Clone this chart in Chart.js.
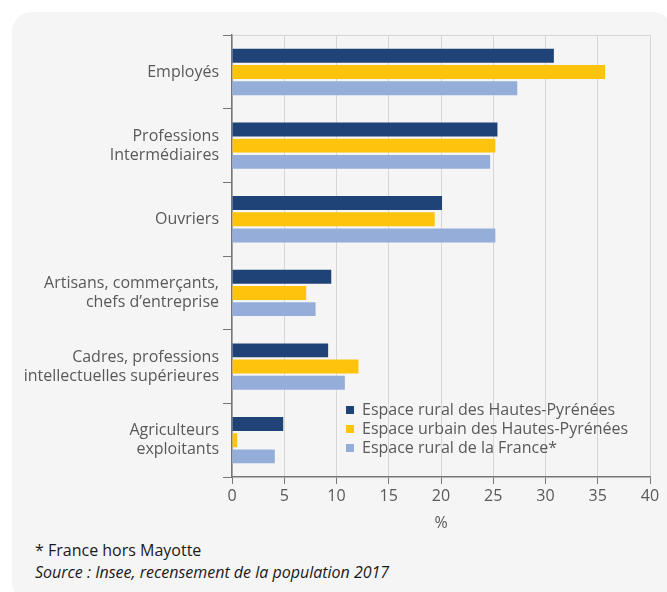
<!DOCTYPE html>
<html>
<head>
<meta charset="utf-8">
<script src="https://cdn.jsdelivr.net/npm/chart.js@4"></script>
<style>
  body { margin: 0; background: #fff; font-family: 'Open Sans', sans-serif; }
  #panel { position: absolute; left: 12px; top: 12px; width: 660px; height: 590px; background: #f5f5f5; border-radius: 20px; }
  #wrap { position: absolute; left: 12px; top: 12px; width: 655px; height: 525px; }
  .note { position: absolute; left: 35px; font-size: 16px; color: #1a1a1a; white-space: nowrap; }
</style>
</head>
<body>
<div id="panel"></div>
<div id="wrap"><canvas id="myChart"></canvas></div>
<div class="note" style="top:539px">* France hors Mayotte</div>
<div class="note" style="top:561px;font-style:italic">Source : Insee, recensement de la population 2017</div>
<script>
var categories = [
    "Employés",
    ["Professions", "Intermédiaires"],
    "Ouvriers",
    ["Artisans, commerçants,", "chefs d’entreprise"],
    ["Cadres, professions", "intellectuelles supérieures"],
    ["Agriculteurs", "exploitants"]
];
var ruralHP = [30.8, 25.4, 20.1, 9.5, 9.2, 4.9];
var urbainHP = [35.7, 25.2, 19.4, 7.1, 12.1, 0.5];
var ruralFrance = [27.3, 24.7, 25.2, 8.0, 10.8, 4.1];
var xTicks = [0, 5, 10, 15, 20, 25, 30, 35, 40];

Chart.defaults.font.family = "'Open Sans', sans-serif";
Chart.defaults.font.size = 16;
Chart.defaults.color = "#595959";

// legend goes inside the plot, lower right
var moveLegend = {
    id: 'moveLegend',
    beforeDraw: function (chart) {
        var lg = chart.legend;
        var w = lg.width, h = lg.height;
        lg.left = 331; lg.top = 387;
        lg.right = lg.left + w; lg.bottom = lg.top + h;
    }
};

var ctx = document.getElementById("myChart");
var myChart = new Chart(ctx, {
    type: 'bar',
    data: {
        labels: categories,
        datasets: [
            { label: "Espace rural des Hautes-Pyrénées", backgroundColor: "#1f4277", data: ruralHP },
            { label: "Espace urbain des Hautes-Pyrénées", backgroundColor: "#fdc30d", data: urbainHP },
            { label: "Espace rural de la France*", backgroundColor: "#95aed9", data: ruralFrance }
        ]
    },
    plugins: [moveLegend],
    options: {
        indexAxis: 'y',
        responsive: true,
        maintainAspectRatio: false,
        animation: false,
        categoryPercentage: 0.66,
        barPercentage: 0.86,
        layout: { padding: { left: 0, top: 23, right: 17, bottom: 0 } },
        plugins: {
            tooltip: { enabled: false },
            legend: {
                position: 'chartArea',
                align: 'start',
                labels: { boxWidth: 8, boxHeight: 8, padding: 3, color: "#595959", font: { size: 16 } }
            }
        },
        scales: {
            x: {
                min: 0, max: 40,
                afterBuildTicks: function (scale) {
                    scale.ticks = xTicks.map(function (v) { return { value: v }; });
                },
                afterFit: function (scale) { scale.height = 60; },
                grid: { color: "#d6d6d6", lineWidth: 1, tickColor: "#777", tickLength: 7 },
                border: { color: "#777", width: 1.5 },
                ticks: { padding: 3, color: "#595959", font: { size: 16 } },
                title: { display: true, text: "%", color: "#595959", font: { size: 16 }, padding: { top: 0, bottom: 4 } }
            },
            y: {
                afterFit: function (scale) { scale.width = 220; },
                grid: {
                    offset: true,
                    color: function (c) { return c.index === 0 ? "#d6d6d6" : "rgba(0,0,0,0)"; },
                    tickColor: "#777",
                    tickLength: 9
                },
                border: { color: "#777", width: 1.5 },
                ticks: { padding: 4, color: "#595959", font: { size: 16, lineHeight: 1.2 } }
            }
        }
    }
});
</script>
</body>
</html>
